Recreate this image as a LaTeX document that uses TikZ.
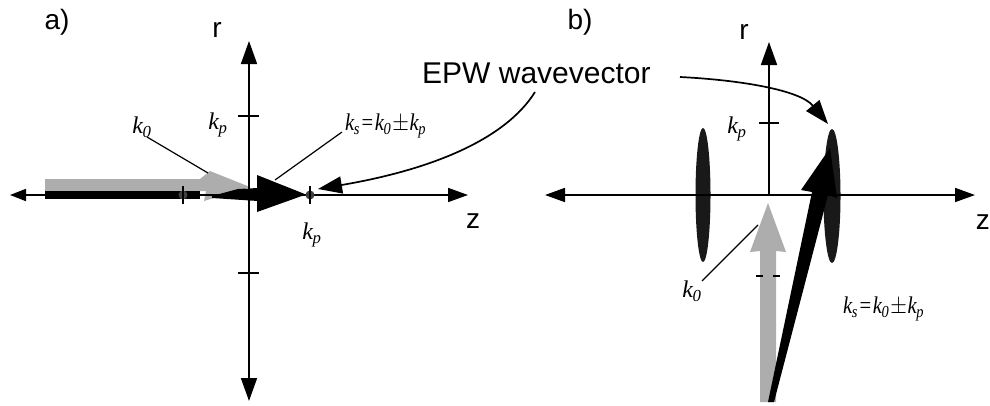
\documentclass[tikz,border=0pt]{standalone}
\usepackage{fontspec}
\setmainfont{Liberation Serif}
\newfontfamily\labfont{Liberation Sans}
\usetikzlibrary{arrows.meta}
\newcommand{\kv}[1]{\textit{k}\textsubscript{\kern-0.05em\textit{#1}}}
\newcommand{\kseq}{\scalebox{0.86}[1]{\kv{s}\kern0.08em=\kern0.08em\kv{0}\kern0.05em$\pm$\kern0.03em\kv{p}}}
\begin{document}
\begin{tikzpicture}[x=1pt,y=-1pt,
  axis/.style={line width=1.7pt,draw=black},
  bighead/.style={-{Triangle[length=23pt,width=16pt]}},
  hhead/.style={-{Triangle[length=20pt,width=14pt]}},
  tickln/.style={line width=1.7pt},
  leader/.style={line width=1.2pt},
  epw/.style={line width=1.7pt,-{Triangle[length=24pt,width=17pt]}},
  sanslab/.style={font=\labfont\fontsize{28}{30}\selectfont,inner sep=0pt},
  mathlab/.style={font=\fontsize{24}{26}\selectfont,inner sep=0pt},
  grayfill/.style={fill=black!32,draw=none},
  blackfill/.style={fill=black,draw=none},
  ellfill/.style={fill=black!90,draw=none}
]
\useasboundingbox (0,0) rectangle (990,405);
% ================= panel a =================
\node[sanslab] (alab) at (57,22) {a)};
\node[sanslab] (ra) at (217,30) {r};
\node[sanslab] (za) at (473,221) {z};
\coordinate (aO) at (249,195);
\coordinate (aL) at (10,195);
\coordinate (aR) at (468,195);
\coordinate (aT) at (249,41);
\coordinate (aB) at (249,401);
% gray k0 arrow
\fill[grayfill] (45,179) -- (200,179) -- (210,171) -- (250,187) -- (204,201) -- (206,191) -- (45,191) -- cycle;
% axes
\draw[axis,hhead] (aO) -- (aR);
\draw[axis,-{Triangle[length=16pt,width=12pt]}] (aO) -- (aL);
\draw[axis,bighead] (aO) -- (aT);
\draw[axis,bighead] (aO) -- (aB);
% ticks
\coordinate (at1) at (249,116);
\coordinate (at2) at (249,273);
\draw[tickln] ([xshift=-11pt]at1) -- ([xshift=10pt]at1);
\draw[tickln] ([xshift=-11pt]at2) -- ([xshift=10pt]at2);
% black ks
\fill[blackfill] (45,191) rectangle (200,199);
\fill[blackfill] (212,196) -- (238,189) -- (258,188) -- (258,201) -- (212,198) -- cycle;
\fill[blackfill] (257,175) -- (306,194.5) -- (257,212) -- cycle;
% markers
\node[circle,fill=black!75,inner sep=0pt,minimum size=9pt] (m1) at (183,195) {};
\node[circle,fill=black!75,inner sep=0pt,minimum size=9pt] (m2) at (310,195) {};
\draw[line width=1.4pt] ([yshift=-9pt]m1.center) -- ([yshift=9pt]m1.center);
\draw[line width=1.4pt] ([yshift=-9pt]m2.center) -- ([yshift=9pt]m2.center);
% labels
\node[mathlab] (k0a) at (142,127) {\kv{0}};
\node[mathlab] (kpa1) at (218,125) {\kv{p}};
\node[mathlab] (kpa2) at (312,235) {\kv{p}};
\node[mathlab,anchor=west] (ksa) at (345,126) {\kseq};
\coordinate (k0aend) at (208,173);
\coordinate (ksaend) at (275,180);
\draw[leader] (147,137) -- (k0aend);
\draw[leader] (342,132) -- (ksaend);
% EPW text
\node[font=\labfont\fontsize{30}{32}\selectfont,inner sep=0pt,anchor=base west] (epw) at (422,83) {EPW wavevector};
\coordinate (epwA) at (535,92);
\coordinate (epwAtip) at (318,189);
\draw[epw] (epwA) .. controls (505,140) and (430,170) .. (epwAtip);
% ================= panel b =================
\node[sanslab] (blab) at (580,22) {b)};
\node[sanslab] (rb) at (744,32) {r};
\node[sanslab,anchor=east] (zb) at (990,222) {z};
\coordinate (bO) at (769,195);
\coordinate (bL) at (545,195);
\coordinate (bR) at (975,195);
\coordinate (bT) at (769,42);
% ellipses
\fill[ellfill] (703,195) ellipse (7.5pt and 67pt);
\fill[ellfill] (832,196) ellipse (8.5pt and 67pt);
% axes
\draw[axis,hhead] (bO) -- (bR);
\draw[axis,hhead] (bO) -- (bL);
\draw[axis,bighead] (bO) -- (bT);
\coordinate (bt1) at (769,123);
\draw[tickln] ([xshift=-10pt]bt1) -- ([xshift=10pt]bt1);
% gray k0
\fill[grayfill] (760,402) -- (760,251) -- (750,252) -- (768,203) -- (786,252) -- (776,251) -- (776,402) -- cycle;
\draw[line width=2pt] (756,276) -- (763,276);
\draw[line width=2pt] (773,276) -- (780,276);
% black ks
\fill[blackfill] (768,402) -- (774,402) -- (828,195) -- (837,198) -- (830,148) -- (801,190) -- (812,192) -- cycle;
% labels
\node[mathlab] (kpb) at (737,129) {\kv{p}};
\node[mathlab] (k0b) at (692,291) {\kv{0}};
\node[mathlab,anchor=west] (ksb) at (843,309) {\kseq};
\coordinate (k0bend) at (758,225);
\draw[leader] (702,281) -- (k0bend);
\coordinate (epwB) at (680,77);
\coordinate (epwBtip) at (828,124);
\draw[epw] (epwB) .. controls (740,80) and (800,90) .. (epwBtip);
\end{tikzpicture}
\end{document}
